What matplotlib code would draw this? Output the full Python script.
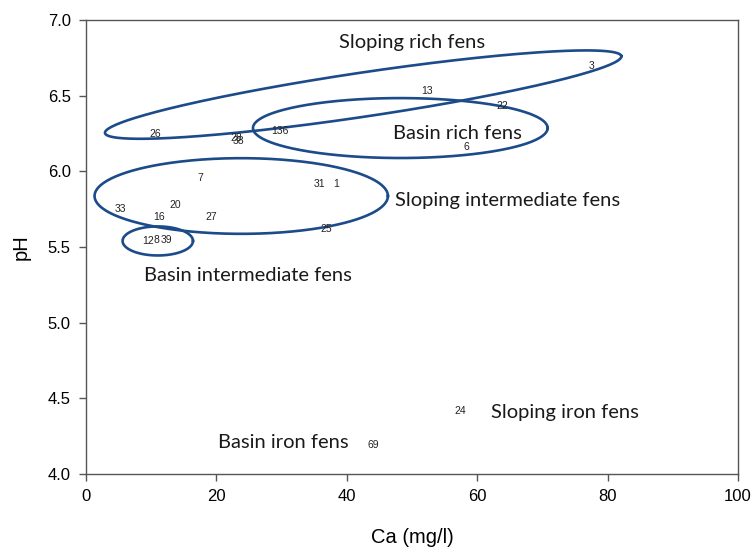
import matplotlib
matplotlib.use("Agg")
import matplotlib.pyplot as plt
import numpy as np

# sample labels and their Ca / pH values
site_labels = ["3", "13", "22", "136", "26", "28", "38", "6", "7", "31", "1",
               "33", "20", "16", "27", "25", "12", "8", "39", "24", "69"]
ca_values = [77.5, 52.3, 63.8, 29.8, 10.6, 23.0, 23.3, 58.3, 17.6, 35.8, 38.3,
             5.2, 13.7, 11.2, 19.2, 36.8, 9.5, 10.8, 12.4, 57.4, 44.0]
ph_values = [6.70, 6.53, 6.43, 6.27, 6.25, 6.22, 6.20, 6.16, 5.96, 5.92, 5.92,
             5.75, 5.78, 5.70, 5.70, 5.62, 5.54, 5.55, 5.55, 4.42, 4.19]

# fen type labels
group_names = ["Sloping rich fens", "Basin rich fens", "Sloping intermediate fens",
               "Basin intermediate fens", "Sloping iron fens", "Basin iron fens"]
group_x = [50.0, 56.9, 64.7, 24.8, 73.5, 30.2]
group_y = [6.85, 6.25, 5.81, 5.31, 4.41, 4.21]

# ellipses: centre, major semi-axis vector, minor semi-axis vector (data units)
ellipses = [
    ((42.5, 6.508), (39.6, 0.254), (-0.50, 0.144)),
    ((48.2, 6.287), (22.6, 0.0), (0.0, 0.198)),
    ((23.8, 5.838), (22.5, 0.0), (0.0, 0.250)),
    ((11.0, 5.541), (5.4, 0.0), (0.0, 0.096)),
]

fig = plt.figure(figsize=(7.55, 5.52), dpi=100)
ax = fig.add_axes([0.114, 0.141, 0.8635, 0.8225])

for lab, x, y in zip(site_labels, ca_values, ph_values):
    ax.text(x, y, lab, fontsize=7.5, ha="center", va="center",
            family="Liberation Sans", color="#222222")

for name, x, y in zip(group_names, group_x, group_y):
    ax.text(x, y, name, fontsize=14.5, ha="center", va="center",
            family="Lato", color="#1a1a1a")

t = np.linspace(0, 2 * np.pi, 400)
for (cx, cy), (ax1, ay1), (bx1, by1) in ellipses:
    ex = cx + ax1 * np.cos(t) + bx1 * np.sin(t)
    ey = cy + ay1 * np.cos(t) + by1 * np.sin(t)
    ax.plot(ex, ey, color="#1c4b8a", lw=1.9)

ax.set_xlim(0, 100)
ax.set_ylim(4.0, 7.0)
ax.set_xticks(np.arange(0, 101, 20))
ax.set_yticks(np.arange(4.0, 7.01, 0.5))
ax.set_yticklabels([f"{v:.1f}" for v in np.arange(4.0, 7.01, 0.5)])
ax.tick_params(direction="out", length=5, width=1, color="#555555",
               labelsize=12, pad=6)
for lab in ax.get_xticklabels() + ax.get_yticklabels():
    lab.set_family("Liberation Sans")
for sp in ax.spines.values():
    sp.set_color("#555555")
    sp.set_linewidth(1.0)

ax.set_xlabel("Ca (mg/l)", fontsize=14.5, family="Liberation Sans", labelpad=17)
ax.set_ylabel("pH", fontsize=14.5, family="Liberation Sans", labelpad=12)

fig.savefig("out.png", dpi=100)
